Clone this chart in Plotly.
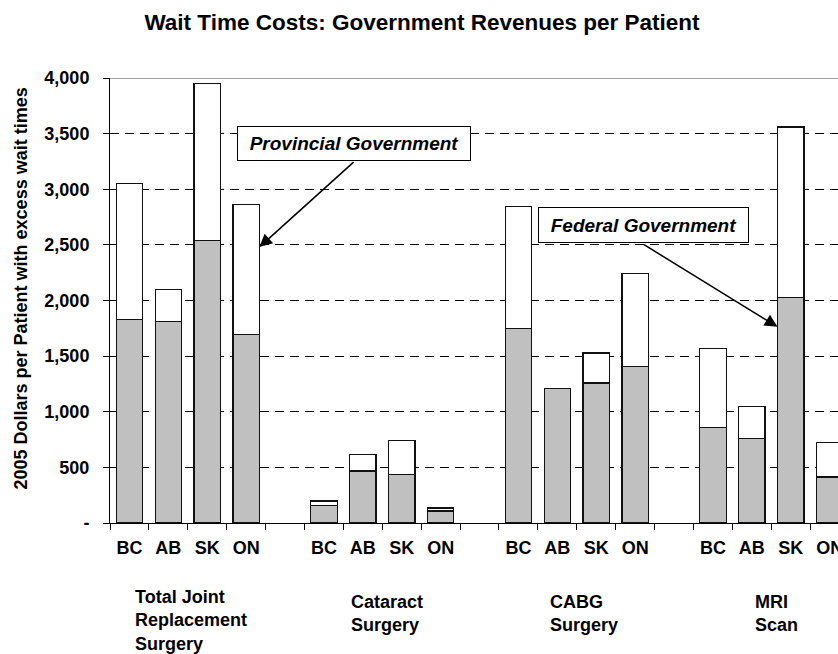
import plotly.graph_objects as go

# procedures (x groups) and provinces (bars within each group)
procedures = ["Total Joint<br>Replacement<br>Surgery", "Cataract<br>Surgery", "CABG<br>Surgery", "MRI<br>Scan"]
provinces = ["BC", "AB", "SK", "ON"]

# 2005 dollars per patient (BC, AB, SK, ON for each procedure)
federal = [1830, 1808, 2537, 1695,
           156, 468, 435, 108,
           1745, 1209, 1259, 1407,
           861, 762, 2028, 414]
provincial = [1225, 292, 1413, 1170,
              42, 150, 306, 27,
              1101, 0, 270, 833,
              708, 282, 1532, 309]

y_ticks = [0, 500, 1000, 1500, 2000, 2500, 3000, 3500, 4000]
y_tick_labels = ["-", "500", "1,000", "1,500", "2,000", "2,500", "3,000", "3,500", "4,000"]

FONT = "Liberation Sans, Arial, sans-serif"

W, H = 838, 654

# one empty slot between procedure groups
slot = [g * (len(provinces) + 1) + i for g in range(len(procedures)) for i in range(len(provinces))]
labels = provinces * len(procedures)

fig = go.Figure()
fig.add_trace(go.Bar(x=slot, y=federal, name="Federal Government", width=0.68,
                     marker=dict(color="#C0C0C0", line=dict(color="#111", width=1.2))))
fig.add_trace(go.Bar(x=slot, y=provincial, name="Provincial Government", width=0.68,
                     marker=dict(color="white", line=dict(color="#111", width=1.2))))

fig.update_layout(
    barmode="stack",
    width=W, height=H,
    margin=dict(l=110, r=0, t=78, b=131),
    plot_bgcolor="white", paper_bgcolor="white",
    showlegend=False,
    font=dict(family=FONT, color="black", size=18),
    title=dict(text="Wait Time Costs: Government Revenues per Patient",
               font=dict(size=22.5, weight="bold", family=FONT),
               x=422 / W, xref="container", xanchor="center",
               y=1 - 22 / H, yref="container", yanchor="middle"),
)

# the last group runs off the right edge, as in the original
fig.update_xaxes(
    range=[-0.5, 18.215], tickmode="array", tickvals=slot, ticktext=labels,
    ticks="", showgrid=False, zeroline=False,
    showline=True, linecolor="black", linewidth=1,
    tickfont=dict(size=18, weight="bold"), ticklabelstandoff=8,
    ticklabeloverflow="allow",
    minor=dict(tickmode="linear", tick0=-0.5, dtick=1, ticks="outside", ticklen=6,
               tickcolor="black", tickwidth=1, showgrid=False),
    automargin=False,
)
fig.update_yaxes(
    range=[0, 4000], tickmode="array", tickvals=y_ticks, ticktext=y_tick_labels,
    ticks="outside", ticklen=6, tickcolor="black",
    showgrid=True, gridcolor="black", gridwidth=1, griddash="9px,6px",
    zeroline=False, showline=True, linecolor="black", linewidth=1,
    tickfont=dict(size=18, weight="bold"), ticklabelstandoff=10,
    automargin=False,
)

# top border of the plot area
fig.add_shape(type="line", xref="paper", yref="y", x0=0, x1=1, y0=4000, y1=4000,
              line=dict(color="#888", width=1.5))

# y-axis title
fig.add_annotation(text="2005 Dollars per Patient with excess wait times",
                   xref="paper", yref="paper", x=0, y=0.5, xshift=-102, yshift=12,
                   textangle=-90, showarrow=False,
                   font=dict(size=18, weight="bold"))

# procedure group labels
group_left = [0.09, 5.64, 10.76, 16.02]
for name, gx in zip(procedures, group_left):
    n_lines = name.count("<br>") + 1
    fig.add_annotation(text=name, xref="x", yref="paper", x=gx, y=0,
                       xanchor="left", yanchor="top", align="left",
                       yshift=-62 if n_lines == 3 else -67, showarrow=False,
                       font=dict(size=18, weight="bold"))

# callout boxes with arrows
callouts = [
    ("Provincial Government", 5.765, 3414, 232, 33, 3.34, 2480, 5.80, 3256),
    ("Federal Government", 13.22, 2675, 209, 34, 16.66, 1763, 13.19, 2510),
]
for text, bx, by, bw, bh, hx, hy, tx, ty in callouts:
    fig.add_annotation(text=text, x=bx, y=by, xref="x", yref="y", showarrow=False,
                       width=bw, height=bh, bgcolor="white", bordercolor="black",
                       borderwidth=1, borderpad=0,
                       font=dict(size=19, weight="bold", style="italic"))
    fig.add_annotation(text="", x=hx, y=hy, ax=tx, ay=ty, xref="x", yref="y",
                       axref="x", ayref="y", showarrow=True, arrowhead=2,
                       arrowsize=1.7, arrowwidth=1.5, arrowcolor="black", standoff=0)

# drop the default page margin so the 838x654 figure fills the window exactly
fig.write_html("out.html", config={"displayModeBar": False},
               post_script="document.body.style.margin='0';document.body.style.overflow='hidden';")
